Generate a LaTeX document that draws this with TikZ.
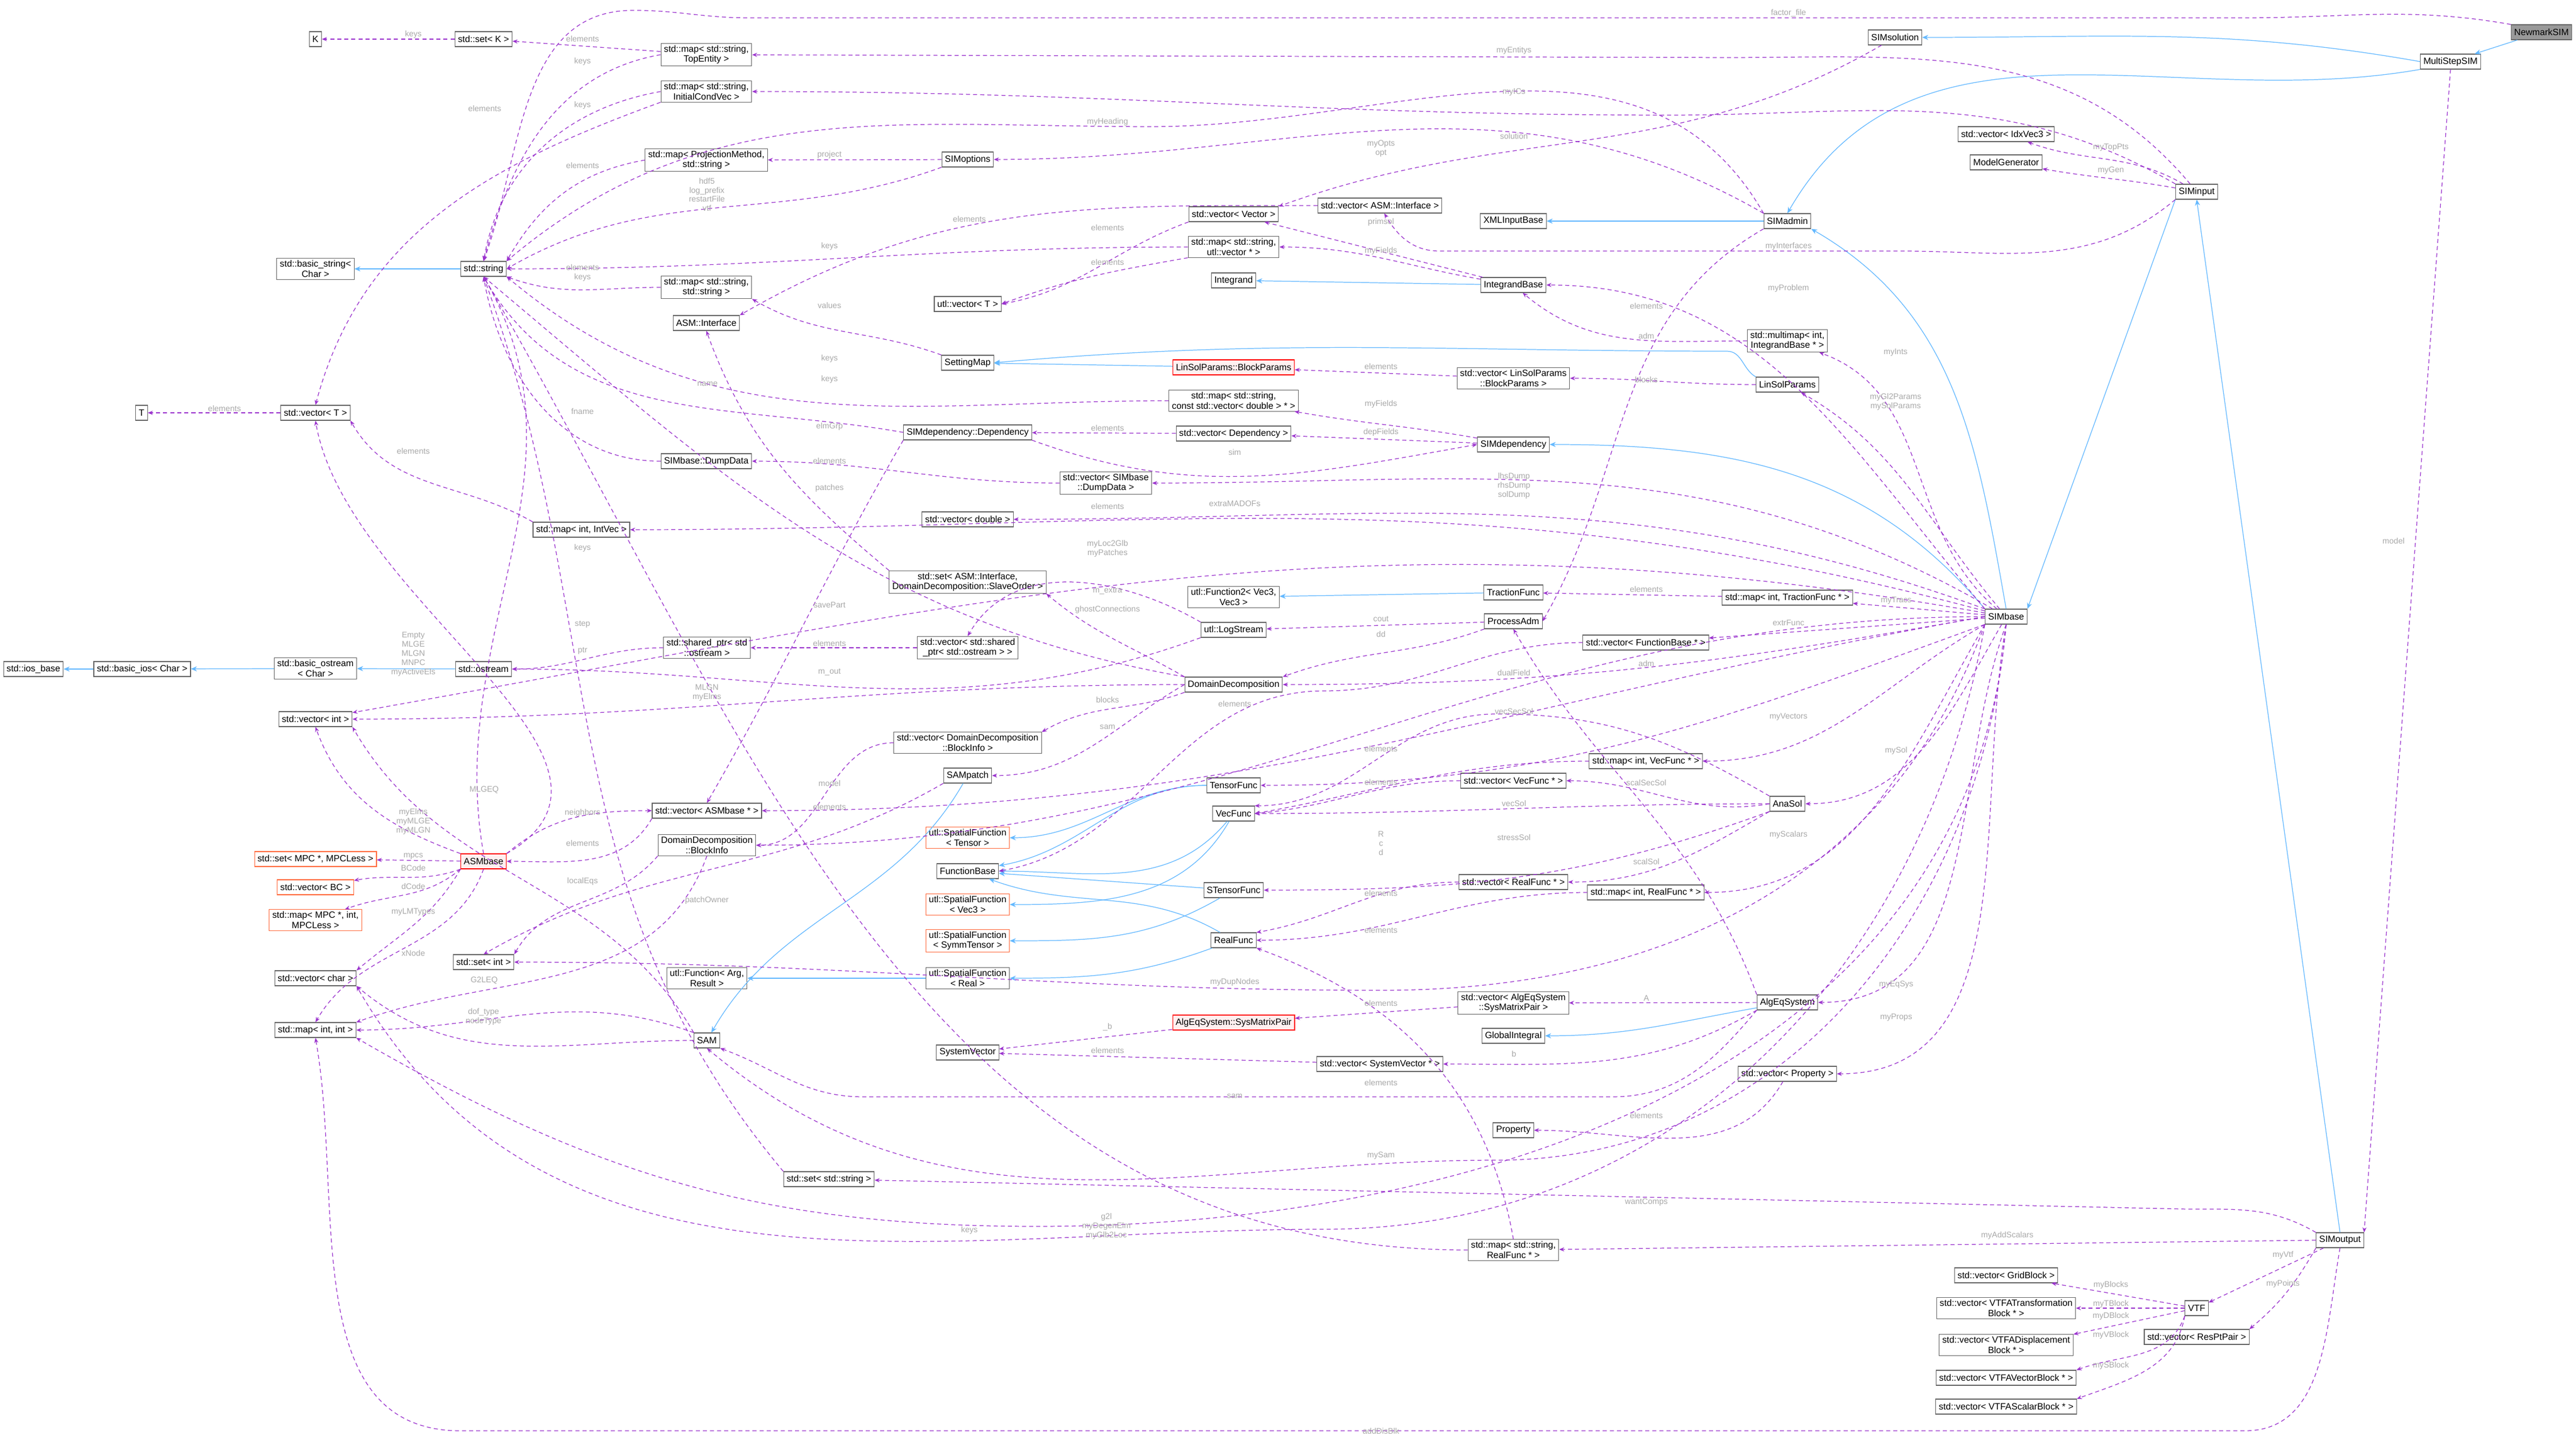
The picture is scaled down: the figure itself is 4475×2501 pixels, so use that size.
\documentclass[tikz,border=0pt]{standalone}
\usepackage{fontspec}
\setmainfont{Liberation Sans}
\usetikzlibrary{arrows.meta}
\definecolor{pur}{HTML}{9A32CD}
\definecolor{blu}{HTML}{63B8FF}
\definecolor{lab}{HTML}{A8A8A8}
\definecolor{bd}{HTML}{666666}
\definecolor{org}{HTML}{FF6A3D}
\begin{document}
\begin{tikzpicture}[x=0.01cm,y=-0.01cm,
  n/.style={draw=bd,line width=0.3pt,fill=white,font=\fontsize{4.5}{5}\selectfont,inner xsep=1.5pt,inner ysep=1pt,align=center,minimum height=0.26cm},
  rn/.style={n,draw=red,fill=red!6},
  on/.style={n,draw=org},
  gn/.style={n,fill=black!40},
  m/.style={draw=pur,dashed,dash pattern=on 2pt off 1.5pt,line width=0.35pt,-{Stealth[length=2.5pt,width=2pt]}},
  b/.style={draw=blu,line width=0.35pt,-{Stealth[length=3pt,width=2.5pt]}},
  l/.style={font=\fontsize{4}{4.5}\selectfont,text=lab,align=center,inner sep=0pt}]
\useasboundingbox (0,0) rectangle (4475,2501);
% nodes
\node[n] (K) at (548,68) {K};
\node[n] (setK) at (840,68) {std::set< K >};
\node[n] (mapTop) at (1227,95) {std::map< std::string,\\ TopEntity >};
\node[n] (mapIC) at (1227,159) {std::map< std::string,\\ InitialCondVec >};
\node[n] (mapProj) at (1227,278) {std::map< ProjectionMethod,\\ std::string >};
\node[n] (basicstr) at (548,467) {std::basic\_string<\\ Char >};
\node[n] (string) at (840,467) {std::string};
\node[n] (mapSS) at (1227,499) {std::map< std::string,\\ std::string >};
\node[n] (ASMint) at (1227,561) {ASM::Interface};
\node[n] (vecT) at (548,717) {std::vector< T >};
\node[n] (T) at (246,717) {T};
\node[n] (DumpData) at (1227,801) {SIMbase::DumpData};
\node[n] (SIMoptions) at (1681,277) {SIMoptions};
\node[n] (vecVector) at (2143,372) {std::vector< Vector >};
\node[n] (vecASMint) at (2397,357) {std::vector< ASM::Interface >};
\node[n] (XMLInputBase) at (2629,384) {XMLInputBase};
\node[n] (mapSutl) at (2143,429) {std::map< std::string,\\ utl::vector * >};
\node[n] (Integrand) at (2143,487) {Integrand};
\node[n] (IntegrandBase) at (2629,495) {IntegrandBase};
\node[n] (utlvecT) at (1681,528) {utl::vector< T >};
\node[n] (SettingMap) at (1681,630) {SettingMap};
\node[rn] (BlockParams) at (2143,638) {LinSolParams::BlockParams};
\node[n] (vecBlockParams) at (2629,657) {std::vector< LinSolParams\\ ::BlockParams >};
\node[n] (mapSvecD) at (2143,696) {std::map< std::string,\\ const std::vector< double > * >};
\node[n] (Dependency) at (1681,751) {SIMdependency::Dependency};
\node[n] (vecDependency) at (2143,753) {std::vector< Dependency >};
\node[n] (SIMdependency) at (2629,772) {SIMdependency};
\node[gn] (NewmarkSIM) at (4415,56) {NewmarkSIM};
\node[n] (SIMsolution) at (3292,65) {SIMsolution};
\node[n] (MultiStepSIM) at (4257,107) {MultiStepSIM};
\node[n] (vecIdxVec3) at (3485,233) {std::vector< IdxVec3 >};
\node[n] (ModelGenerator) at (3485,282) {ModelGenerator};
\node[n] (SIMinput) at (3816,333) {SIMinput};
\node[n] (SIMadmin) at (3105,384) {SIMadmin};
\node[n] (multimap) at (3105,592) {std::multimap< int,\\ IntegrandBase * >};
\node[n] (LinSolParams) at (3105,668) {LinSolParams};
\node[n] (iosbase) at (58,1162) {std::ios\_base};
\node[n] (basicios) at (247,1162) {std::basic\_ios< Char >};
\node[n] (basicostream) at (548,1161) {std::basic\_ostream\\ < Char >};
\node[n] (ostream) at (840,1162) {std::ostream};
\node[n] (mapIntVec) at (1010,920) {std::map< int, IntVec >};
\node[n] (sharedptr) at (1228,1125) {std::shared\_ptr< std\\ ::ostream >};
\node[n] (vecInt) at (548,1249) {std::vector< int >};
\node[n] (vecASMbase) at (1228,1408) {std::vector< ASMbase * >};
\node[n] (DDBlockInfo) at (1228,1468) {DomainDecomposition\\ ::BlockInfo};
\node[rn] (ASMbase) at (840,1496) {ASMbase};
\node[on] (setMPC) at (548,1492) {std::set< MPC *, MPCLess >};
\node[on] (vecBC) at (548,1541) {std::vector< BC >};
\node[on] (mapMPC) at (548,1598) {std::map< MPC *, int,\\ MPCLess >};
\node[n] (setInt) at (840,1671) {std::set< int >};
\node[n] (vecDumpData) at (1921,839) {std::vector< SIMbase\\ ::DumpData >};
\node[n] (vecDouble) at (1681,902) {std::vector< double >};
\node[n] (setASMint) at (1681,1011) {std::set< ASM::Interface,\\ DomainDecomposition::SlaveOrder >};
\node[n] (Function2) at (2143,1037) {utl::Function2< Vec3,\\ Vec3 >};
\node[n] (TractionFunc) at (2629,1029) {TractionFunc};
\node[n] (LogStream) at (2143,1094) {utl::LogStream};
\node[n] (ProcessAdm) at (2629,1079) {ProcessAdm};
\node[n] (vecShared) at (1681,1125) {std::vector< std::shared\\ \_ptr< std::ostream > >};
\node[n] (vecFunctionBase) at (2859,1116) {std::vector< FunctionBase * >};
\node[n] (DD) at (2143,1189) {DomainDecomposition};
\node[n] (vecDDBlockInfo) at (1681,1290) {std::vector< DomainDecomposition\\ ::BlockInfo >};
\node[n] (SAMpatch) at (1681,1347) {SAMpatch};
\node[n] (TensorFunc) at (2143,1364) {TensorFunc};
\node[n] (mapVecFunc) at (2859,1322) {std::map< int, VecFunc * >};
\node[n] (vecVecFunc) at (2629,1356) {std::vector< VecFunc * >};
\node[n] (VecFunc) at (2143,1413) {VecFunc};
\node[on] (SFTensor) at (1681,1455) {utl::SpatialFunction\\ < Tensor >};
\node[n] (FunctionBase) at (1681,1513) {FunctionBase};
\node[n] (STensorFunc) at (2143,1546) {STensorFunc};
\node[n] (vecRealFunc) at (2629,1532) {std::vector< RealFunc * >};
\node[n] (mapRealFunc) at (2859,1550) {std::map< int, RealFunc * >};
\node[on] (SFVec3) at (1681,1571) {utl::SpatialFunction\\ < Vec3 >};
\node[on] (SFSymm) at (1681,1634) {utl::SpatialFunction\\ < SymmTensor >};
\node[n] (RealFunc) at (2143,1633) {RealFunc};
\node[n] (mapTracFunc) at (3105,1038) {std::map< int, TractionFunc * >};
\node[n] (SIMbase) at (3485,1071) {SIMbase};
\node[n] (AnaSol) at (3105,1396) {AnaSol};
\node[n] (vecChar) at (548,1699) {std::vector< char >};
\node[n] (mapIntInt) at (548,1789) {std::map< int, int >};
\node[n] (Function) at (1228,1699) {utl::Function< Arg,\\ Result >};
\node[n] (SAM) at (1228,1807) {SAM};
\node[n] (setString) at (1440,2048) {std::set< std::string >};
\node[n] (SFReal) at (1681,1699) {utl::SpatialFunction\\ < Real >};
\node[n] (vecSysMP) at (2629,1742) {std::vector< AlgEqSystem\\ ::SysMatrixPair >};
\node[rn] (SysMP) at (2143,1776) {AlgEqSystem::SysMatrixPair};
\node[n] (GlobalIntegral) at (2629,1799) {GlobalIntegral};
\node[n] (SystemVector) at (1681,1828) {SystemVector};
\node[n] (vecSysVec) at (2397,1848) {std::vector< SystemVector * >};
\node[n] (Property) at (2629,1963) {Property};
\node[n] (mapSRealFunc) at (2629,2171) {std::map< std::string,\\ RealFunc * >};
\node[n] (AlgEqSystem) at (3105,1741) {AlgEqSystem};
\node[n] (vecProperty) at (3105,1865) {std::vector< Property >};
\node[n] (SIMoutput) at (4065,2154) {SIMoutput};
\node[n] (vecGridBlock) at (3485,2215) {std::vector< GridBlock >};
\node[n] (VTF) at (3816,2272) {VTF};
\node[n] (vecVTFT) at (3485,2272) {std::vector< VTFATransformation\\ Block * >};
\node[n] (vecResPt) at (3816,2322) {std::vector< ResPtPair >};
\node[n] (vecVTFD) at (3485,2336) {std::vector< VTFADisplacement\\ Block * >};
\node[n] (vecVTFV) at (3485,2393) {std::vector< VTFAVectorBlock * >};
\node[n] (vecVTFS) at (3485,2443) {std::vector< VTFAScalarBlock * >};
\coordinate (topA) at (1100,18);
\coordinate (botA) at (1700,2485);
% inheritance
\draw[b] (NewmarkSIM) -- (MultiStepSIM);
\draw[b] (MultiStepSIM.west) to[out=170,in=0] (SIMsolution.east);
\draw[b] (MultiStepSIM.south west) to[out=190,in=60] (SIMadmin.north);
\draw[b] (SIMadmin) -- (XMLInputBase);
\draw[b] (SIMoutput.north) -- (SIMinput.south);
\draw[b] (SIMinput.south west) -- (SIMbase.north east);
\draw[b] (SIMbase.north) to[out=100,in=-30] (SIMadmin.south east);
\draw[b] (SIMbase.north west) to[out=130,in=0] (SIMdependency.east);
\draw[b] (IntegrandBase) -- (Integrand);
\draw[b] (LinSolParams.north west) to[out=150,in=0] (3000,610) to[out=180,in=5] (SettingMap.east);
\draw[b] (BlockParams) -- (SettingMap);
\draw[b] (string) -- (basicstr);
\draw[b] (ostream) -- (basicostream);
\draw[b] (basicostream) -- (basicios);
\draw[b] (basicios) -- (iosbase);
\draw[b] (TractionFunc) -- (Function2);
\draw[b] (TensorFunc) to[out=180,in=0] (SFTensor);
\draw[b] (TensorFunc) to[out=180,in=10] (FunctionBase);
\draw[b] (VecFunc) to[out=-120,in=0] (SFVec3);
\draw[b] (VecFunc) to[out=-130,in=0] (FunctionBase);
\draw[b] (STensorFunc) to[out=-150,in=0] (SFSymm);
\draw[b] (STensorFunc) -- (FunctionBase);
\draw[b] (RealFunc) to[out=-160,in=0] (SFReal);
\draw[b] (RealFunc) to[out=150,in=-20] (FunctionBase);
\draw[b] (SFReal) -- (Function);
\draw[b] (SAMpatch) to[out=-120,in=60] (SAM);
\draw[b] (AlgEqSystem) to[out=190,in=0] (GlobalIntegral);
% members
\draw[m] (NewmarkSIM.north west) to[out=170,in=0] (3900,31) -- (1300,31) to[out=180,in=0] (topA) to[out=180,in=70] (string.north);
\draw[m] (SIMinput) to[out=130,in=0] (3000,100) -- (mapTop);
\draw[m] (SIMinput.north west) to[out=150,in=0] (2900,200) to[out=180,in=0] (mapIC);
\draw[m] (SIMadmin.north west) to[out=120,in=0] (2000,220) to[out=180,in=40] (string.north east);
\draw[m] (SIMsolution) to[out=-150,in=20] (vecVector.north east);
\draw[m] (SIMadmin.north west) to[out=150,in=0] (SIMoptions);
\draw[m] (SIMinput) to[out=150,in=-20] (vecIdxVec3);
\draw[m] (SIMinput) to[out=170,in=-10] (ModelGenerator);
\draw[m] (SIMinput.south west) to[out=-140,in=0] (3300,436) -- (2500,436) to[out=180,in=-60] (vecASMint);
\draw[m] (SIMadmin.south west) to[out=-150,in=60] (ProcessAdm.east);
\draw[m] (mapTop) -- (setK);
\draw[m] (setK) -- (K);
\draw[m] (mapTop.west) to[out=190,in=75] (string.north);
\draw[m] (mapIC.west) to[out=190,in=80] (string.north);
\draw[m] (mapIC.south west) to[out=200,in=75] (vecT.north);
\draw[m] (SIMoptions) -- (mapProj);
\draw[m] (mapProj.west) to[out=190,in=60] (string.north east);
\draw[m] (SIMoptions.south west) to[out=-160,in=30] (string.east);
\draw[m] (mapSutl) to[out=180,in=0] (string.east);
\draw[m] (mapSutl.south west) to[out=190,in=20] (utlvecT.east);
\draw[m] (vecVector.south west) to[out=200,in=10] (utlvecT.east);
\draw[m] (vecASMint.west) to[out=180,in=30] (ASMint.north east);
\draw[m] (mapSS) to[out=180,in=-20] (string.south east);
\draw[m] (SettingMap.north west) to[out=160,in=-30] (mapSS.south east);
\draw[m] (mapSvecD.west) to[out=180,in=-40] (string.south east);
\draw[m] (setASMint.north west) to[out=140,in=-70] (ASMint.south);
\draw[m] (Dependency.west) to[out=170,in=-60] (string.south);
\draw[m] (DumpData.west) to[out=180,in=-80] (string.south);
\draw[m] (IntegrandBase) -- (vecVector);
\draw[m] (IntegrandBase) to[out=170,in=0] (mapSutl);
\draw[m] (multimap) to[out=180,in=-40] (IntegrandBase);
\draw[m] (SIMbase.north west) to[out=130,in=0] (IntegrandBase);
\draw[m] (SIMbase) to[out=140,in=-20] (multimap);
\draw[m] (SIMbase) to[out=130,in=-30] (LinSolParams);
\draw[m] (LinSolParams) to[out=180,in=0] (vecBlockParams);
\draw[m] (vecBlockParams) -- (BlockParams);
\draw[m] (SIMdependency) to[out=170,in=-10] (mapSvecD);
\draw[m] (SIMdependency) -- (vecDependency);
\draw[m] (vecDependency) -- (Dependency);
\draw[m] (Dependency.south east) to[out=-20,in=190] (SIMdependency.west);
\draw[m] (Dependency.south west) to[out=-120,in=60] (vecASMbase.north);
\draw[m] (SIMbase) to[out=150,in=0] (vecDumpData);
\draw[m] (vecDumpData) to[out=180,in=0] (DumpData);
\draw[m] (SIMbase) to[out=160,in=0] (vecDouble);
\draw[m] (SIMbase) to[out=165,in=0] (mapIntVec);
\draw[m] (SIMbase) to[out=170,in=10] (vecInt);
\draw[m] (mapIntVec.north west) to[out=150,in=-60] (vecT.south east);
\draw[m] (vecT) -- (T);
\draw[m] (SIMbase) -- (mapTracFunc);
\draw[m] (mapTracFunc) -- (TractionFunc);
\draw[m] (SIMbase) -- (vecFunctionBase);
\draw[m] (vecFunctionBase.west) to[out=180,in=0] (2300,1200) to[out=180,in=10] (FunctionBase.east);
\draw[m] (ProcessAdm) -- (LogStream);
\draw[m] (ProcessAdm.south west) to[out=-160,in=20] (DD.north east);
\draw[m] (LogStream.north west) to[out=150,in=60] (vecShared.north);
\draw[m] (LogStream.south west) to[out=-160,in=0] (ostream.east);
\draw[m] (vecShared) to[out=180,in=0] (sharedptr);
\draw[m] (sharedptr) to[out=180,in=0] (ostream);
\draw[m] (DD.north west) to[out=150,in=-40] (setASMint.south east);
\draw[m] (DD.south west) to[out=-160,in=30] (vecDDBlockInfo.north east);
\draw[m] (vecDDBlockInfo) to[out=180,in=0] (DDBlockInfo);
\draw[m] (DD.west) to[out=-150,in=0] (SAMpatch);
\draw[m] (DD.north west) to[out=170,in=-40] (string.south);
\draw[m] (DD.west) to[out=180,in=0] (vecInt.east);
\draw[m] (DDBlockInfo.south west) to[out=-130,in=60] (setInt.north east);
\draw[m] (DDBlockInfo.south) to[out=-110,in=20] (mapIntInt.north east);
\draw[m] (SIMbase.west) to[out=190,in=0] (DD.east);
\draw[m] (SIMbase.south west) to[out=200,in=0] (TensorFunc.east);
\draw[m] (SIMbase.south west) to[out=-150,in=0] (mapVecFunc.east);
\draw[m] (mapVecFunc) to[out=180,in=10] (VecFunc.east);
\draw[m] (vecVecFunc) to[out=180,in=5] (VecFunc.east);
\draw[m] (AnaSol.west) to[out=180,in=0] (VecFunc.east);
\draw[m] (AnaSol.north west) to[out=150,in=0] (2600,1240) to[out=180,in=0] (VecFunc.north east);
\draw[m] (AnaSol.west) to[out=190,in=0] (vecVecFunc.east);
\draw[m] (AnaSol.south west) to[out=-150,in=0] (vecRealFunc.east);
\draw[m] (AnaSol.south west) to[out=-160,in=0] (STensorFunc.east);
\draw[m] (SIMbase) to[out=-120,in=0] (AnaSol);
\draw[m] (SIMbase.south west) to[out=-120,in=0] (mapRealFunc.east);
\draw[m] (mapRealFunc) to[out=180,in=0] (RealFunc.east);
\draw[m] (vecRealFunc) to[out=180,in=10] (RealFunc.north east);
\draw[m] (SIMbase.south) to[out=-110,in=0] (AlgEqSystem);
\draw[m] (AlgEqSystem) -- (vecSysMP);
\draw[m] (vecSysMP) -- (SysMP);
\draw[m] (SysMP) -- (SystemVector);
\draw[m] (AlgEqSystem.south west) to[out=-150,in=0] (vecSysVec);
\draw[m] (vecSysVec) -- (SystemVector);
\draw[m] (AlgEqSystem.north west) to[out=110,in=-60] (ProcessAdm.south);
\draw[m] (AlgEqSystem.south west) to[out=-130,in=0] (2800,1905) -- (1500,1905) to[out=180,in=-20] (SAM.south east);
\draw[m] (SIMbase.south) to[out=-100,in=0] (vecProperty);
\draw[m] (vecProperty) to[out=-120,in=0] (Property);
\draw[m] (SIMbase.south) to[out=-95,in=0] (2600,2015) to[out=180,in=-40] (SAM.south);
\draw[m] (SIMbase.south west) to[out=-110,in=0] (2400,1720) to[out=180,in=0] (setInt.east);
\draw[m] (SIMbase.south west) to[out=-100,in=0] (2300,2135) to[out=180,in=-60] (vecChar.south east);
\draw[m] (SIMoutput.north west) to[out=150,in=0] (3800,2100) -- (setString);
\draw[m] (SIMoutput.west) -- (mapSRealFunc);
\draw[m] (mapSRealFunc.west) to[out=180,in=-60] (string.south);
\draw[m] (mapSRealFunc.north) to[out=100,in=-20] (RealFunc.south east);
\draw[m] (SIMbase.south) to[out=-95,in=0] (1800,2130) to[out=180,in=-30] (mapIntInt.south east);
\draw[m] (SIMoutput.south) to[out=-100,in=0] (3900,2485) -- (botA) -- (800,2485) to[out=180,in=-80] (mapIntInt.south);
\draw[m] (setString.north west) to[out=130,in=-70] (string.south);
\draw[m] (SAM.west) to[out=180,in=-40] (vecChar.south east);
\draw[m] (SAM.north west) to[out=160,in=0] (mapIntInt.east);
\draw[m] (ASMbase.north west) to[out=160,in=-70] (vecInt.south);
\draw[m] (ASMbase.north) to[out=100,in=-60] (string.south);
\draw[m] (ASMbase.north east) to[out=30,in=-80] (vecT.south);
\draw[m] (ASMbase) -- (setMPC);
\draw[m] (ASMbase.south west) to[out=-160,in=10] (vecBC);
\draw[m] (ASMbase.south west) to[out=-140,in=20] (mapMPC);
\draw[m] (ASMbase.south west) to[out=-120,in=40] (vecChar.north east);
\draw[m] (ASMbase.south) to[out=-110,in=60] (mapIntInt.north);
\draw[m] (ASMbase.north east) to[out=40,in=180] (vecASMbase.west);
\draw[m] (vecASMbase.south west) to[out=-120,in=0] (ASMbase.east);
\draw[m] (SIMbase.west) to[out=190,in=0] (vecASMbase.east);
\draw[m] (SIMbase.west) to[out=180,in=0] (DDBlockInfo.east);
\draw[m] (SAM.north west) to[out=120,in=-60] (vecInt.south east);
\draw[m] (SAMpatch.south west) to[out=-150,in=30] (setInt.north);
\draw[m] (MultiStepSIM.south) -- (SIMoutput.north east);
\draw[m] (SIMoutput) -- (VTF);
\draw[m] (SIMoutput.south west) to[out=-120,in=40] (vecResPt.north east);
\draw[m] (VTF) -- (vecGridBlock);
\draw[m] (VTF) -- (vecVTFT);
\draw[m] (VTF) -- (vecVTFD.north east);
\draw[m] (VTF.south west) to[out=-110,in=20] (vecVTFV.north east);
\draw[m] (VTF.south west) to[out=-100,in=20] (vecVTFS.north east);
% labels
\node[l] at (3107,23) {factor\_file};
\node[l] at (718,60) {keys};
\node[l] at (1012,67) {elements};
\node[l] at (1012,107) {keys};
\node[l] at (842,188) {elements};
\node[l] at (1012,183) {keys};
\node[l] at (1012,287) {elements};
\node[l] at (1228,338) {hdf5\\log\_prefix\\restartFile\\vtf};
\node[l] at (1441,269) {project};
\node[l] at (1441,428) {keys};
\node[l] at (1012,474) {elements\\keys};
\node[l] at (1441,530) {values};
\node[l] at (1441,623) {keys};
\node[l] at (1441,659) {keys};
\node[l] at (1229,667) {name};
\node[l] at (1441,741) {elmGrp};
\node[l] at (1012,714) {fname};
\node[l] at (718,783) {elements};
\node[l] at (390,709) {elements};
\node[l] at (1441,800) {elements};
\node[l] at (1441,848) {patches};
\node[l] at (2630,88) {myEntitys};
\node[l] at (2630,160) {myICs};
\node[l] at (1924,212) {myHeading};
\node[l] at (2630,236) {solution};
\node[l] at (2399,258) {myOpts\\opt};
\node[l] at (1684,380) {elements};
\node[l] at (1924,395) {elements};
\node[l] at (2399,386) {primsol};
\node[l] at (2399,436) {myFields};
\node[l] at (1924,455) {elements};
\node[l] at (2860,531) {elements};
\node[l] at (2860,583) {adm};
\node[l] at (2399,636) {elements};
\node[l] at (2860,659) {blocks};
\node[l] at (2399,702) {myFields};
\node[l] at (1924,743) {elements};
\node[l] at (2399,751) {depFields};
\node[l] at (2145,785) {sim};
\node[l] at (2630,844) {lhsDump\\rhsDump\\solDump};
\node[l] at (3667,256) {myTopPts};
\node[l] at (3667,296) {myGen};
\node[l] at (3107,428) {myInterfaces};
\node[l] at (3107,501) {myProblem};
\node[l] at (3293,612) {myInts};
\node[l] at (3293,698) {myGl2Params\\mySolParams};
\node[l] at (4158,939) {model};
\node[l] at (1012,952) {keys};
\node[l] at (1441,1051) {savePart};
\node[l] at (1012,1084) {step};
\node[l] at (1441,1117) {elements};
\node[l] at (1012,1130) {ptr};
\node[l] at (718,1136) {Empty\\MLGE\\MLGN\\MNPC\\myActiveEls};
\node[l] at (1441,1167) {m\_out};
\node[l] at (1228,1203) {MLGN\\myElms};
\node[l] at (1441,1360) {model};
\node[l] at (841,1372) {MLGEQ};
\node[l] at (1441,1401) {elements};
\node[l] at (1012,1412) {neighbors};
\node[l] at (718,1427) {myElms\\myMLGE\\myMLGN};
\node[l] at (1012,1464) {elements};
\node[l] at (718,1487) {mpcs};
\node[l] at (718,1507) {BCode};
\node[l] at (718,1539) {dCode};
\node[l] at (1012,1531) {localEqs};
\node[l] at (1228,1564) {patchOwner};
\node[l] at (718,1584) {myLMTypes};
\node[l] at (718,1655) {xNode};
\node[l] at (1924,879) {elements};
\node[l] at (2145,875) {extraMADOFs};
\node[l] at (1924,953) {myLoc2Glb\\myPatches};
\node[l] at (1924,1026) {m\_extra};
\node[l] at (1924,1059) {ghostConnections};
\node[l] at (2860,1023) {elements};
\node[l] at (2399,1075) {cout};
\node[l] at (2399,1101) {dd};
\node[l] at (2860,1152) {adm};
\node[l] at (2630,1168) {dualField};
\node[l] at (1924,1215) {blocks};
\node[l] at (2145,1222) {elements};
\node[l] at (2630,1235) {vecSecSol};
\node[l] at (1924,1263) {sam};
\node[l] at (2399,1300) {elements};
\node[l] at (2399,1358) {elements};
\node[l] at (2860,1359) {scalSecSol};
\node[l] at (2630,1395) {vecSol};
\node[l] at (2399,1465) {R\\c\\d};
\node[l] at (2630,1454) {stressSol};
\node[l] at (2860,1496) {scalSol};
\node[l] at (2399,1551) {elements};
\node[l] at (2399,1615) {elements};
\node[l] at (3294,1043) {myTracs};
\node[l] at (3107,1082) {extrFunc};
\node[l] at (3107,1245) {myVectors};
\node[l] at (3294,1304) {mySol};
\node[l] at (3107,1450) {myScalars};
\node[l] at (841,1703) {G2LEQ};
\node[l] at (840,1766) {dof\_type\\nodeType};
\node[l] at (2145,1706) {myDupNodes};
\node[l] at (2399,1742) {elements};
\node[l] at (2860,1734) {A};
\node[l] at (1924,1784) {\_b};
\node[l] at (1924,1824) {elements};
\node[l] at (2630,1830) {b};
\node[l] at (2399,1880) {elements};
\node[l] at (2145,1904) {sam};
\node[l] at (2860,1937) {elements};
\node[l] at (2399,2007) {mySam};
\node[l] at (2860,2088) {wantComps};
\node[l] at (1922,2130) {g2l\\myDegenElm\\myGlb2Loc};
\node[l] at (1684,2137) {keys};
\node[l] at (2399,2485) {addDisBlk};
\node[l] at (3294,1710) {myEqSys};
\node[l] at (3294,1767) {myProps};
\node[l] at (3487,2146) {myAddScalars};
\node[l] at (3966,2180) {myVtf};
\node[l] at (3667,2232) {myBlocks};
\node[l] at (3966,2230) {myPoints};
\node[l] at (3667,2265) {myTBlock};
\node[l] at (3667,2286) {myDBlock};
\node[l] at (3667,2319) {myVBlock};
\node[l] at (3667,2372) {mySBlock};
\end{tikzpicture}
\end{document}
